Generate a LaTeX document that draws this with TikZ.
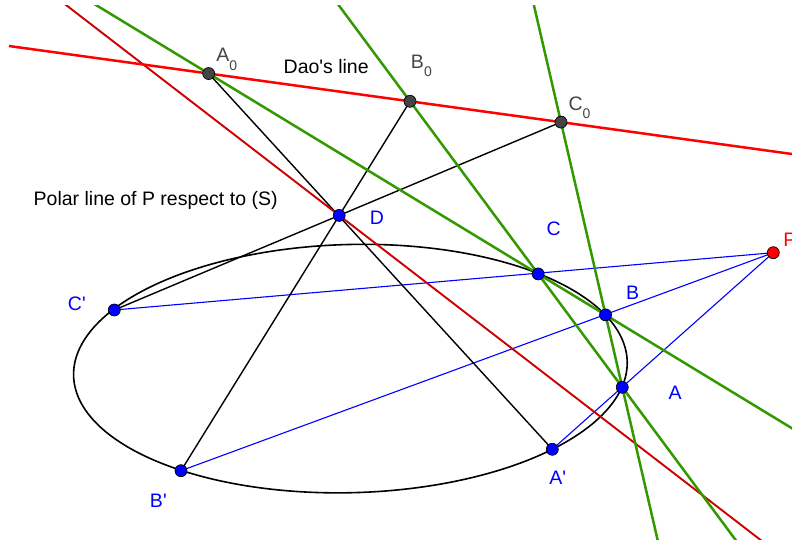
\documentclass[tikz,border=0pt]{standalone}
\usepackage{fontspec}
\setmainfont{Liberation Sans}[Ligatures=TeXOff]
\usetikzlibrary{calc}
\definecolor{daored}{HTML}{FF0000}
\definecolor{polarred}{HTML}{CC0000}
\definecolor{gggreen}{HTML}{339900}
\definecolor{ggblue}{HTML}{0000FF}
\definecolor{gggray}{HTML}{444444}
\begin{document}
\begin{tikzpicture}[x=0.1pt,y=-0.1pt,
  lbl/.style={anchor=base west, inner sep=0pt, font=\fontsize{1.95}{2.2}\selectfont},
  ptdot/.style={circle, draw=black, line width=0.07pt, inner sep=0pt, minimum size=1.2pt},
  bluedot/.style={ptdot, fill=ggblue},
  graydot/.style={ptdot, fill=gggray},
  reddot/.style={ptdot, fill=daored},
  greenline/.style={gggreen, line width=0.25pt},
  daoline/.style={daored, line width=0.25pt},
  polarline/.style={polarred, line width=0.19pt},
  blackline/.style={black, line width=0.14pt},
  blueline/.style={ggblue, line width=0.11pt},
  ellline/.style={black, line width=0.16pt}
]
\useasboundingbox (0,0) rectangle (792,545);

% line ends (as seen at the borders of the view)
\coordinate (L1) at (9,46);      \coordinate (L2) at (792,154);     % Dao's line
\coordinate (G1a) at (97.6,6);   \coordinate (G1b) at (792,428.3);  % green 1
\coordinate (G2a) at (339.3,6);  \coordinate (G2b) at (734.9,539);  % green 2
\coordinate (G3a) at (534.1,6);  \coordinate (G3b) at (657.4,539);  % green 3
\coordinate (Pa) at (67.3,6);    \coordinate (Pb) at (759.3,539);   % polar line

% points
\coordinate (P) at (773.3,252.7);
\coordinate (Ap) at (552.3,449.3);
\coordinate (Bp) at (181,470.7);
\coordinate (Cp) at (114.3,310);
\coordinate (Dg) at (339,215.7);
\coordinate (D) at ($(Pa)!(Dg)!(Pb)$);
\coordinate (A0) at (intersection of L1--L2 and G1a--G1b);
\coordinate (B0) at (intersection of L1--L2 and G2a--G2b);
\coordinate (C0) at (intersection of L1--L2 and G3a--G3b);
\coordinate (C) at (intersection of G1a--G1b and G2a--G2b);
\coordinate (B) at (intersection of G1a--G1b and G3a--G3b);
\coordinate (A) at (intersection of G2a--G2b and G3a--G3b);

\begin{scope}
\clip (9,6) rectangle (800,540);
\draw[ellline] plot[domain=0:360,samples=361,variable=\t]
  ({350.4+276.9*cos(\t)*0.99966+124.1*sin(\t)*0.0260},
   {368.6-276.9*cos(\t)*0.0260+124.1*sin(\t)*0.99966}) -- cycle;
\draw[blueline] (P) -- (Cp);
\draw[blueline] (P) -- (Bp);
\draw[blueline] (P) -- (Ap);
\draw[blackline] (A0) -- (Ap);
\draw[blackline] (B0) -- (Bp);
\draw[blackline] (C0) -- (Cp);
\draw[polarline] ($(Pa)!-0.05!(Pb)$) -- ($(Pa)!1.05!(Pb)$);
\draw[greenline] ($(G1a)!-0.05!(G1b)$) -- ($(G1a)!1.05!(G1b)$);
\draw[greenline] ($(G2a)!-0.05!(G2b)$) -- ($(G2a)!1.05!(G2b)$);
\draw[greenline] ($(G3a)!-0.05!(G3b)$) -- ($(G3a)!1.05!(G3b)$);
\draw[daoline] ($(L1)!-0.02!(L2)$) -- ($(L1)!1.05!(L2)$);
\end{scope}

% dots
\node[graydot] (nA0) at (A0) {};
\node[graydot] (nB0) at (B0) {};
\node[graydot] (nC0) at (C0) {};
\node[bluedot] (nD) at (D) {};
\node[bluedot] (nA) at (A) {};
\node[bluedot] (nB) at (B) {};
\node[bluedot] (nC) at (C) {};
\node[bluedot] (nAp) at (Ap) {};
\node[bluedot] (nBp) at (Bp) {};
\node[bluedot] (nCp) at (Cp) {};
\node[reddot] (nP) at (P) {};

% labels
\node[lbl] (tDao) at (281.7,73.3) {Dao's line};
\node[lbl] (tPolar) at (31.7,205.7) {Polar line of P respect to (S)};
\node[lbl, text=gggray] (tA0) at (214.3,61.7) {A\raisebox{-0.85pt}{\fontsize{1.4}{1.4}\selectfont 0}};
\node[lbl, text=gggray] (tB0) at (409,68.3) {B\raisebox{-0.8pt}{\fontsize{1.4}{1.4}\selectfont 0}};
\node[lbl, text=gggray] (tC0) at (566.5,110) {C\raisebox{-0.83pt}{\fontsize{1.4}{1.4}\selectfont 0}};
\node[lbl, text=ggblue] (tD) at (368,224.3) {D};
\node[lbl, text=ggblue] (tC) at (544.5,235) {C};
\node[lbl, text=ggblue] (tB) at (624,299.3) {B};
\node[lbl, text=ggblue] (tA) at (666.7,400) {A};
\node[lbl, text=daored] (tP) at (781.5,246.7) {P};
\node[lbl, text=ggblue] (tAp) at (547.3,484.3) {A'};
\node[lbl, text=ggblue] (tBp) at (148,507.7) {B'};
\node[lbl, text=ggblue] (tCp) at (66,311) {C'};
\end{tikzpicture}
\end{document}
